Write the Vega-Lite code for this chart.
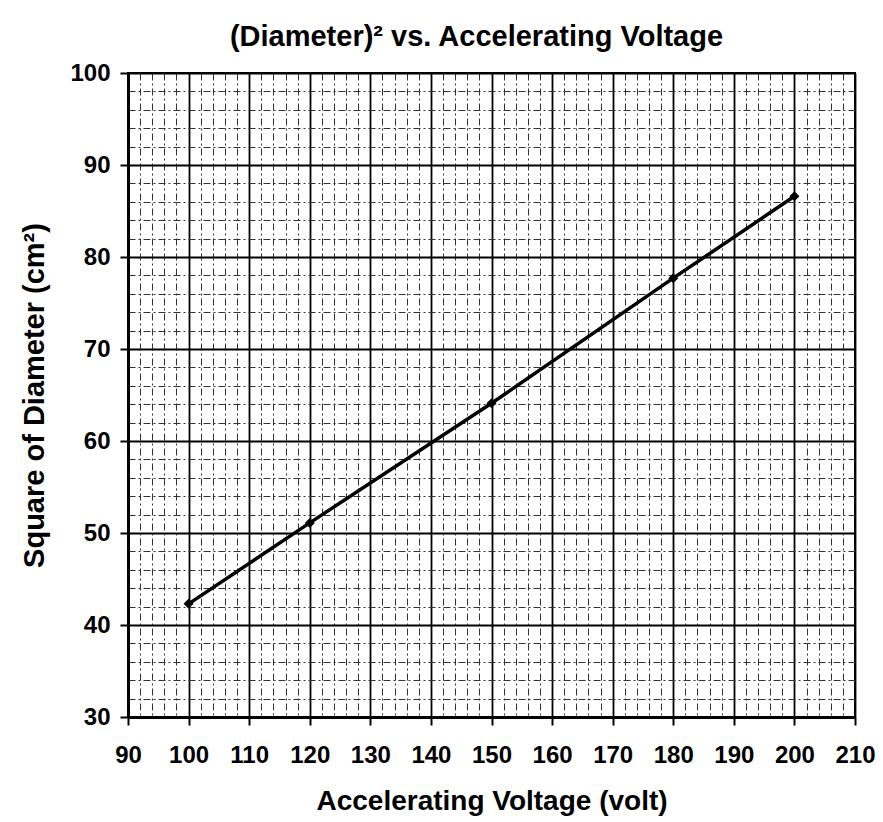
{
  "$schema": "https://vega.github.io/schema/vega-lite/v6.json",
  "autosize": "none",
  "width": 727,
  "height": 644,
  "padding": {"left": 128, "top": 73, "right": 28, "bottom": 105},
  "background": "white",
  "config": {
    "font": "Liberation Sans",
    "view": {"stroke": "black", "strokeWidth": 2}
  },
  "title": {
    "text": "(Diameter)² vs. Accelerating Voltage",
    "fontSize": 29,
    "fontWeight": "bold",
    "color": "black",
    "anchor": "middle",
    "offset": 9,
    "dx": -15
  },
  "data": {
    "values": [
      {"voltage": 100, "d2": 42.3},
      {"voltage": 120, "d2": 51.1},
      {"voltage": 150, "d2": 64.1},
      {"voltage": 180, "d2": 77.7},
      {"voltage": 200, "d2": 86.6}
    ]
  },
  "encoding": {
    "x": {
      "field": "voltage",
      "type": "quantitative",
      "scale": {"domain": [90, 210], "nice": false, "zero": false},
      "axis": {
        "title": "Accelerating Voltage (volt)",
        "values": [90,92,94,96,98,100,102,104,106,108,110,112,114,116,118,120,122,124,126,128,130,132,134,136,138,140,142,144,146,148,150,152,154,156,158,160,162,164,166,168,170,172,174,176,178,180,182,184,186,188,190,192,194,196,198,200,202,204,206,208,210],
        "labelExpr": "datum.value % 10 === 0 ? datum.label : ''",
        "labelFontSize": 24,
        "labelFontWeight": "bold",
        "labelColor": "black",
        "labelPadding": 18,
        "labelFlush": false,
        "labelOverlap": false,
        "titleFontSize": 28,
        "titleFontWeight": "bold",
        "titleColor": "black",
        "titlePadding": 20,
        "domainColor": "black",
        "domainWidth": 3,
        "tickColor": "black",
        "tickWidth": 2,
        "tickSize": {"condition": {"test": "datum.value % 10 === 0", "value": 8}, "value": 0},
        "grid": true,
        "gridColor": {"condition": {"test": "datum.value % 10 === 0", "value": "#000000"}, "value": "#333333"},
        "gridWidth": {"condition": {"test": "datum.value % 10 === 0", "value": 1.8}, "value": 1},
        "gridDash": {"condition": {"test": "datum.value % 10 === 0", "value": []}, "value": [7, 3, 2, 3]},
        "gridOpacity": 1
      }
    },
    "y": {
      "field": "d2",
      "type": "quantitative",
      "scale": {"domain": [30, 100], "nice": false, "zero": false},
      "axis": {
        "title": "Square of Diameter (cm²)",
        "values": [30,32,34,36,38,40,42,44,46,48,50,52,54,56,58,60,62,64,66,68,70,72,74,76,78,80,82,84,86,88,90,92,94,96,98,100],
        "labelExpr": "datum.value % 10 === 0 ? datum.label : ''",
        "labelFontSize": 24,
        "labelFontWeight": "bold",
        "labelColor": "black",
        "labelPadding": 10,
        "labelOverlap": false,
        "labelFlush": false,
        "titleFontSize": 29,
        "titleFontWeight": "bold",
        "titleColor": "black",
        "titlePadding": 20,
        "domainColor": "black",
        "domainWidth": 3,
        "tickColor": "black",
        "tickWidth": 2,
        "tickSize": {"condition": {"test": "datum.value % 10 === 0", "value": 8}, "value": 0},
        "grid": true,
        "gridColor": {"condition": {"test": "datum.value % 10 === 0", "value": "#000000"}, "value": "#333333"},
        "gridWidth": {"condition": {"test": "datum.value % 10 === 0", "value": 1.8}, "value": 1},
        "gridDash": {"condition": {"test": "datum.value % 10 === 0", "value": []}, "value": [7, 3, 2, 3]},
        "gridOpacity": 1
      }
    }
  },
  "layer": [
    {"mark": {"type": "line", "color": "black", "strokeWidth": 3.5}},
    {"mark": {"type": "point", "shape": "diamond", "filled": true, "color": "black", "size": 100, "opacity": 1}}
  ]
}
